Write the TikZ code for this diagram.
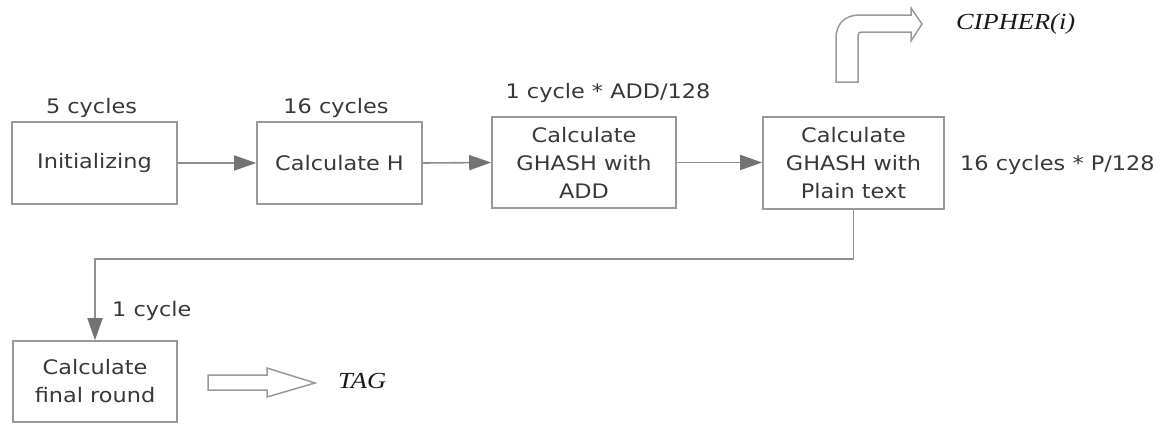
\documentclass[tikz,border=0pt]{standalone}
\usepackage{fontspec}
\setmainfont{DejaVu Sans}[FakeStretch=1.12]
\newfontfamily\tsfont{Liberation Serif}[FakeStretch=1.15]
\usetikzlibrary{arrows.meta}
\definecolor{boxline}{gray}{0.6}
\definecolor{linegray}{gray}{0.56}
\definecolor{tipgray}{gray}{0.45}
\definecolor{txt}{gray}{0.22}
\definecolor{ittxt}{gray}{0.1}
\begin{document}
\begin{tikzpicture}[x=1pt,y=-1pt,
  box/.style={draw=boxline, line width=1.6pt, align=center, text=txt,
    font=\fontsize{20}{28}\selectfont, inner sep=0pt},
  lbl/.style={text=txt, font=\fontsize{20}{24}\selectfont, inner sep=0pt},
  itl/.style={text=ittxt, font=\tsfont\itshape\fontsize{23}{28}\selectfont, inner sep=0pt},
  flow/.style={draw=linegray, line width=1.6pt,
    -{Triangle[length=22pt,width=15pt,color=tipgray]}},
  fat/.style={draw=boxline, line width=1.5pt}
]
\useasboundingbox (0,0) rectangle (1175,423);

\node[box, minimum width=165pt, minimum height=82pt] (init) at (94.5,163) {Initializing};
\node[box, minimum width=165pt, minimum height=82pt] (calch) at (339.5,163) {Calculate H};
\node[box, minimum width=184pt, minimum height=91pt] (gadd) at (584,162.5) {Calculate\\GHASH with\\ADD};
\node[box, minimum width=181pt, minimum height=92pt] (gpt) at (853.5,163) {Calculate\\GHASH with\\Plain text};
\node[box, minimum width=164pt, minimum height=81pt] (final) at (95,381.5) {Calculate\\final round};

\node[lbl, anchor=base] (l1) at (91.5,113) {5 cycles};
\node[lbl, anchor=base] (l2) at (336,113) {16 cycles};
\node[lbl, anchor=base] (l3) at (608,98) {1 cycle * ADD/128};
\node[lbl, anchor=base west] (l4) at (960,170) {16 cycles * P/128};
\node[lbl, anchor=base west] (l5) at (112,316) {1 cycle};

\node[itl, anchor=base west] (cipher) at (956,29) {CIPHER(i)};
\node[itl, anchor=base west] (tag) at (338,388) {TAG};

\draw[flow] (init.east) -- (calch.west);
\draw[flow] (calch.east) -- (gadd.west);
\draw[flow] (gadd.east) -- (gpt.west |- gadd.east);
\coordinate (bend) at (gpt.south |- 0,259);
\draw[flow] (gpt.south) -- (bend) -| (final.north);

% bent block arrow to CIPHER(i)
\draw[fat] (836,82) -- (836,38) .. controls (836,24) and (845,15) .. (859,15)
  -- (911,15) -- (911,8) -- (922,24) -- (911,41) -- (911,32) -- (862,32)
  .. controls (859,32) and (858,33) .. (858,36) -- (858,82) -- cycle;

% block arrow to TAG
\draw[fat] (208,375) -- (267,375) -- (267,368) -- (315,383) -- (267,397)
  -- (267,390) -- (208,390) -- cycle;
\end{tikzpicture}
\end{document}
